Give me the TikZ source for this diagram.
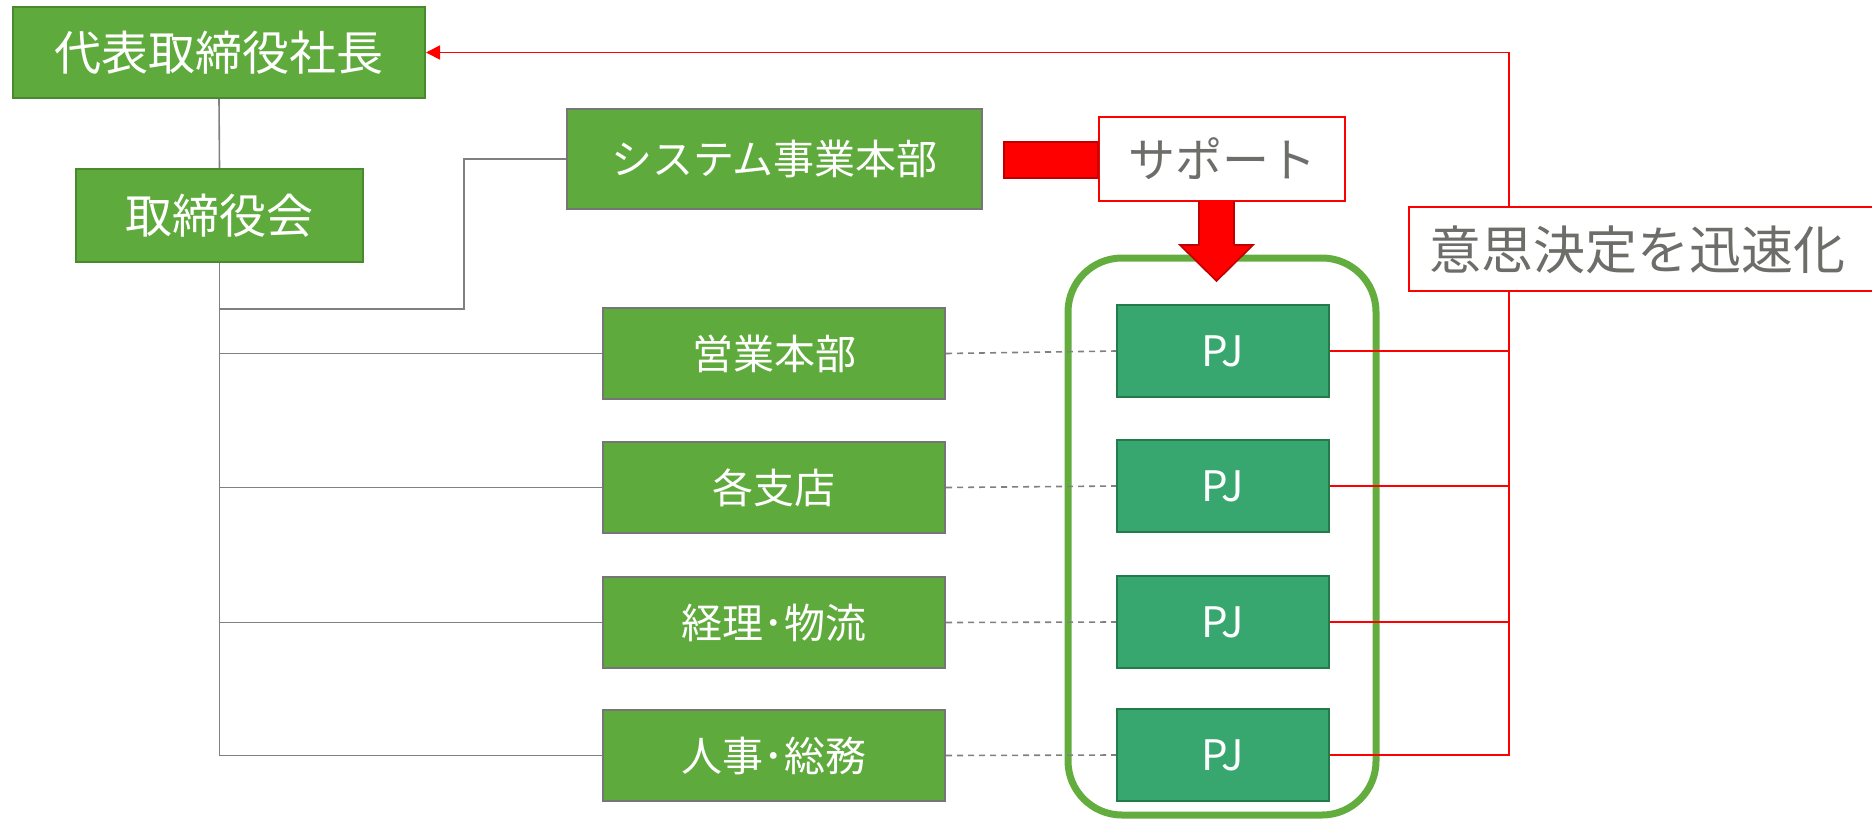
\documentclass[tikz,border=0pt]{standalone}
\usepackage{fontspec}
\setmainfont{Noto Sans CJK JP}
\usetikzlibrary{arrows.meta}
\definecolor{boxgreen}{HTML}{5FAA3C}
\definecolor{topborder}{HTML}{4A8A2E}
\definecolor{pjgreen}{HTML}{38A76F}
\definecolor{pjborder}{HTML}{237A4B}
\definecolor{linegray}{HTML}{808080}
\definecolor{boxgray}{HTML}{767676}
\definecolor{textgray}{HTML}{6D6E69}
\definecolor{framegreen}{HTML}{62AD3D}
\definecolor{darkred}{HTML}{C00000}
\begin{document}
\begin{tikzpicture}[x=0.5pt,y=-0.5pt,
  topbox/.style={draw=topborder,line width=1pt,fill=boxgreen,text=white,inner sep=0pt,
    font=\fontsize{23.5pt}{28pt}\selectfont},
  deptbox/.style={draw=boxgray,line width=1pt,fill=boxgreen,text=white,inner sep=0pt,
    minimum width=171pt,minimum height=45.5pt,font=\fontsize{20.5pt}{24pt}\selectfont},
  pjbox/.style={draw=pjborder,line width=1.2pt,fill=pjgreen,text=white,inner sep=0pt,
    minimum width=106pt,minimum height=46pt,font=\fontsize{21pt}{24pt}\selectfont},
  labelbox/.style={draw=red,line width=0.9pt,fill=white,text=textgray,inner sep=0pt},
  orgline/.style={draw=linegray,line width=0.8pt},
  dotline/.style={draw=linegray,line width=0.8pt,dash pattern=on 3pt off 2.5pt},
  redline/.style={draw=red,line width=0.9pt},
  redshape/.style={fill=red,draw=darkred,line width=0.8pt,line join=miter}
]
\useasboundingbox (0,0) rectangle (1872,819);
\clip (0,0) rectangle (1872,819);

% frame around PJ
\draw[framegreen,line width=3.5pt,rounded corners=27pt] (1068,258) rectangle (1376,815);

% nodes
\node[topbox,minimum width=206pt,minimum height=45.5pt] (pres) at (219,52.5) {代表取締役社長};
\node[topbox,minimum width=143.5pt,minimum height=46.5pt] (board) at (219.5,215.5) {取締役会};
\node[deptbox,minimum width=207.5pt,minimum height=50pt] (sys) at (774.5,159) {システム事業本部};
\node[deptbox] (d1) at (774,353.5) {営業本部};
\node[deptbox] (d2) at (774,487.5) {各支店};
\node[deptbox] (d3) at (774,622.5) {経理･物流};
\node[deptbox] (d4) at (774,755.5) {人事･総務};
\node[pjbox] (p1) at (1223,351) {PJ};
\node[pjbox] (p2) at (1223,486) {PJ};
\node[pjbox] (p3) at (1223,622) {PJ};
\node[pjbox] (p4) at (1223,755) {PJ};

% org connectors
\coordinate (sj) at (464,309);
\draw[orgline] (pres.south) -- (board.north);
\draw[orgline] (board.south) |- (d4.west);
\draw[orgline] (board.south |- sj) -- (sj) |- (sys.west);
\draw[orgline] (board.south |- d1.west) -- (d1.west);
\draw[orgline] (board.south |- d2.west) -- (d2.west);
\draw[orgline] (board.south |- d3.west) -- (d3.west);

% dashed links
\draw[dotline] (d1.east) -- (p1.west);
\draw[dotline] (d2.east) -- (p2.west);
\draw[dotline] (d3.east) -- (p3.west);
\draw[dotline] (d4.east) -- (p4.west);

% red feedback lines
\coordinate (rv) at (1509,52.5);
\draw[redline,-{Triangle[length=7pt,width=7pt]}] (p4.east) -| (rv) -- (pres.east);
\draw[redline] (p1.east) -- (p1.east -| rv);
\draw[redline] (p2.east) -- (p2.east -| rv);
\draw[redline] (p3.east) -- (p3.east -| rv);

% support label and arrows
\node[labelbox,minimum width=123pt,minimum height=42pt,font=\fontsize{23.5pt}{28pt}\selectfont] (sup) at (1222,159) {サポート};
\coordinate (barL) at (1004,142);
\draw[redshape] (barL) rectangle (sup.west |- 0,178);
\draw[redshape] (1199,201) -- (1199,245) -- (1180,245) -- (1216.5,281) -- (1253,245) -- (1234,245) -- (1234,201);

% decision label
\draw[labelbox] (1409,207) rectangle (1885,291);
\node[text=textgray,anchor=west,inner sep=0pt,font=\fontsize{26pt}{30pt}\selectfont] (dec) at (1429,250) {意思決定を迅速化};
\end{tikzpicture}
\end{document}
